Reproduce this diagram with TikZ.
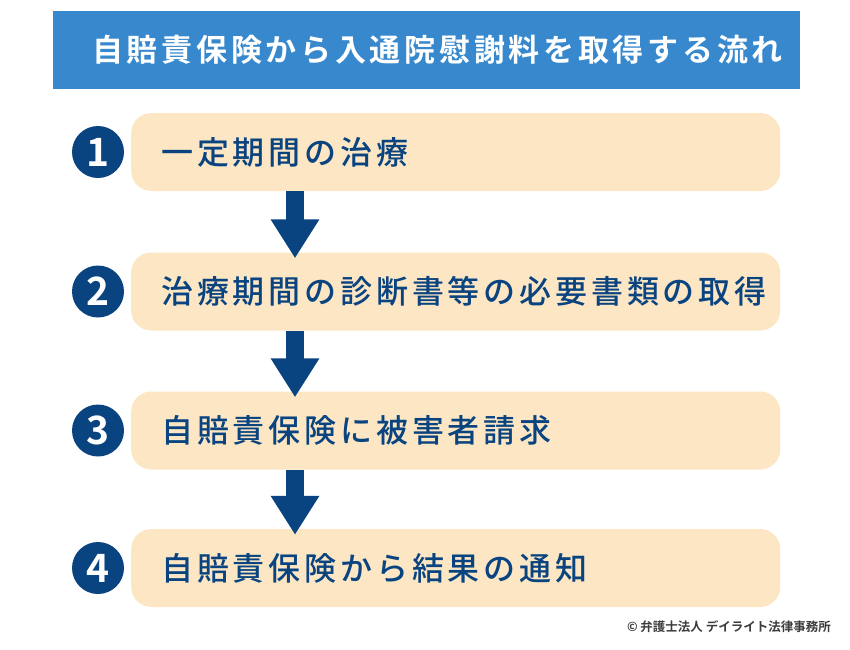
\documentclass[tikz,border=0pt]{standalone}
\usepackage{fontspec}
\setmainfont{Noto Sans CJK JP}[UprightFont=* Medium, BoldFont=* Bold]
\newfontfamily\jpwide{Noto Sans CJK JP}[UprightFont=* Medium, BoldFont=* Bold, LetterSpace=12]
\usepackage{tikz}
\usetikzlibrary{arrows.meta,calc,positioning}
\definecolor{titleblue}{RGB}{55, 136, 204}
\definecolor{stepcream}{RGB}{252, 230, 196}
\definecolor{navyblue}{RGB}{10, 68, 128}
\definecolor{notegray}{RGB}{60, 60, 60}

\tikzset{
  stepbox/.style={fill=stepcream, rounded corners=20pt, minimum width=649pt, minimum height=78pt, inner sep=0pt, anchor=west},
  steptext/.style={text=navyblue, font=\jpwide\fontsize{32}{32}\selectfont, anchor=west, inner sep=0pt},
  stepnum/.style={circle, fill=navyblue, minimum size=52pt, inner sep=0pt, text=white, font=\fontsize{39}{39}\selectfont\bfseries},
  flowarrow/.style={navyblue, line width=18pt, -{Triangle[width=46pt, length=39pt]}}
}

\begin{document}
\begin{tikzpicture}[x=1pt, y=-1pt]
        \useasboundingbox (0,0) rectangle (850,649);

        % Title bar
        \fill[titleblue] (53,11) rectangle (800,89);
        \node[anchor=west, inner sep=0pt, text=white, font=\jpwide\fontsize{31}{31}\selectfont\bfseries] (title) at (92,50) {自賠責保険から入通院慰謝料を取得する流れ};

        % Steps
        \foreach \i/\y/\txt in {1/152/一定期間の治療, 2/291.5/治療期間の診断書等の必要書類の取得, 3/430.5/自賠責保険に被害者請求, 4/568/自賠責保険から結果の通知}{
            \node[stepbox] (box\i) at (131,\y) {};
            \node[steptext] (txt\i) at ($(box\i.west)+(30,0)$) {\txt};
            \node[stepnum] (num\i) at (98,\y) {\i};
        }

        % Arrows between steps
        \coordinate (arrx) at (295,0);
        \foreach \i/\j in {1/2, 2/3, 3/4}
            \draw[flowarrow] (box\i.south -| arrx) -- ($(box\j.north -| arrx)+(0,6)$);

        % Credit
        \node[anchor=east, inner sep=0pt, text=notegray, font=\fontsize{12.5}{12.5}\selectfont\bfseries] (credit) at (831,627) {© 弁護士法人 デイライト法律事務所};
    \end{tikzpicture}
\end{document}
